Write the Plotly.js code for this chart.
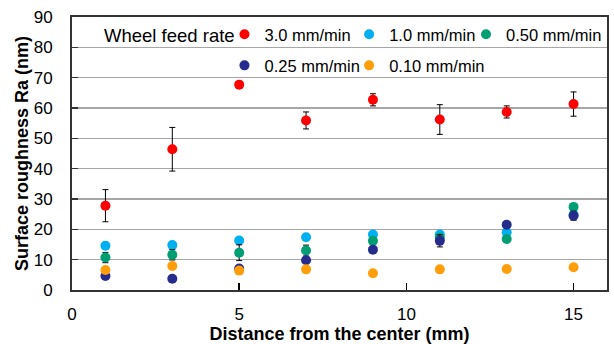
<!DOCTYPE html>
<html>
<head>
<meta charset="utf-8">
<script src="https://cdn.plot.ly/plotly-3.0.1.min.js"></script>
<style>html,body{margin:0;padding:0;background:#fff;}#chart{width:614px;height:344px;}</style>
</head>
<body>
<div id="chart"></div>
<script>
// Distance from the center (mm)
const distance = [1, 3, 5, 7, 9, 11, 13, 15];

const legendTitle = "Wheel feed rate";
const seriesNames = ["3.0 mm/min", "1.0 mm/min", "0.50 mm/min", "0.25 mm/min", "0.10 mm/min"];

// Surface roughness Ra (nm)
const ra_3_0  = [27.8, 46.4, 67.7, 55.9, 62.7, 56.2, 58.7, 61.3];
const err_3_0 = [5.3, 7.2, 0.4, 2.8, 2.0, 4.9, 2.0, 4.0];

const ra_1_0  = [14.6, 14.8, 16.3, 17.4, 18.3, 18.3, 19.0, 24.8];
const err_1_0 = [1.0, 0.8, 0.7, 0.6, 0.6, 0.5, 0.6, 0.6];

const ra_0_50  = [10.7, 11.6, 12.3, 13.0, 16.2, 17.2, 16.8, 27.4];
const err_0_50 = [1.7, 1.7, 2.6, 1.8, 0.8, 0.8, 0.6, 0.6];

const ra_0_25  = [4.6, 3.7, 7.1, 9.8, 13.3, 16.2, 21.5, 24.5];
const err_0_25 = [0.5, 0.5, 0.6, 0.8, 0.6, 2.0, 0.7, 1.5];

const ra_0_10  = [6.6, 7.9, 6.4, 6.8, 5.5, 6.8, 6.9, 7.5];
const err_0_10 = [0.4, 0.4, 0.4, 0.4, 0.3, 0.3, 0.3, 0.3];

const colors = ["#FF0000", "#00B0F0", "#009E73", "#262C8C", "#FF9E0A"];
const values = [ra_3_0, ra_1_0, ra_0_50, ra_0_25, ra_0_10];
const errors = [err_3_0, err_1_0, err_0_50, err_0_25, err_0_10];
const legendIds = ["legend", "legend2", "legend3", "legend4", "legend5"];

const traces = values.map((v, i) => ({
  type: "scatter",
  mode: "markers",
  name: seriesNames[i],
  x: distance,
  y: v,
  legend: legendIds[i],
  marker: {color: colors[i], size: 10},
  error_y: {type: "data", array: errors[i], visible: true, color: "#000000", thickness: 1, width: 3}
}));

const FONT = "Liberation Sans, Arial, sans-serif";

// legend placement (paper fractions): two rows, three columns
const legendX = [0.285, 0.518, 1.0, 0.285, 0.518];
const legendXAnchor = ["left", "left", "right", "left", "left"];
const legendY = [1.0, 1.0, 1.0, 0.886, 0.886];

const layout = {
  width: 614,
  height: 344,
  margin: {l: 72, r: 7, t: 17, b: 54},
  paper_bgcolor: "#ffffff",
  plot_bgcolor: "#ffffff",
  font: {family: FONT, size: 16, color: "#000000"},
  showlegend: true,
  xaxis: {
    range: [0, 16],
    tickvals: [0, 5, 10, 15],
    ticks: "inside",
    ticklen: 7,
    tickwidth: 1.5,
    tickcolor: "#000000",
    showgrid: false,
    zeroline: false,
    showline: true,
    linecolor: "#333333",
    linewidth: 2,
    mirror: true,
    ticklabelstandoff: 8,
    tickfont: {family: FONT, size: 17, color: "#000000"},
    title: {text: "Distance from the center (mm)", font: {family: FONT, size: 18, color: "#000000", weight: "bold"}, standoff: 11}
  },
  yaxis: {
    range: [0, 90],
    dtick: 10,
    ticks: "inside",
    ticklen: 6,
    tickwidth: 1.5,
    tickcolor: "#333333",
    showgrid: true,
    gridcolor: "#A6A6A6",
    gridwidth: 1.3,
    zeroline: false,
    showline: true,
    linecolor: "#333333",
    linewidth: 2,
    mirror: true,
    ticklabelstandoff: 14,
    tickfont: {family: FONT, size: 17, color: "#000000"},
    title: {text: "Surface roughness Ra (nm)", font: {family: FONT, size: 18, color: "#000000", weight: "bold"}, standoff: 0}
  },
  annotations: [{
    text: legendTitle,
    xref: "paper", yref: "paper",
    x: 0.056, y: 0.934,
    xanchor: "left", yanchor: "middle",
    showarrow: false,
    font: {family: FONT, size: 18.5, color: "#000000"}
  }]
};

legendIds.forEach((id, i) => {
  layout[id] = {
    orientation: "h",
    x: legendX[i], y: legendY[i],
    xanchor: legendXAnchor[i], yanchor: "top",
    bgcolor: "rgba(0,0,0,0)",
    borderwidth: 0,
    font: {family: FONT, size: 16.5, color: "#000000"},
    itemwidth: 30
  };
});

Plotly.newPlot("chart", traces, layout, {staticPlot: true, displayModeBar: false});
</script>
</body>
</html>
